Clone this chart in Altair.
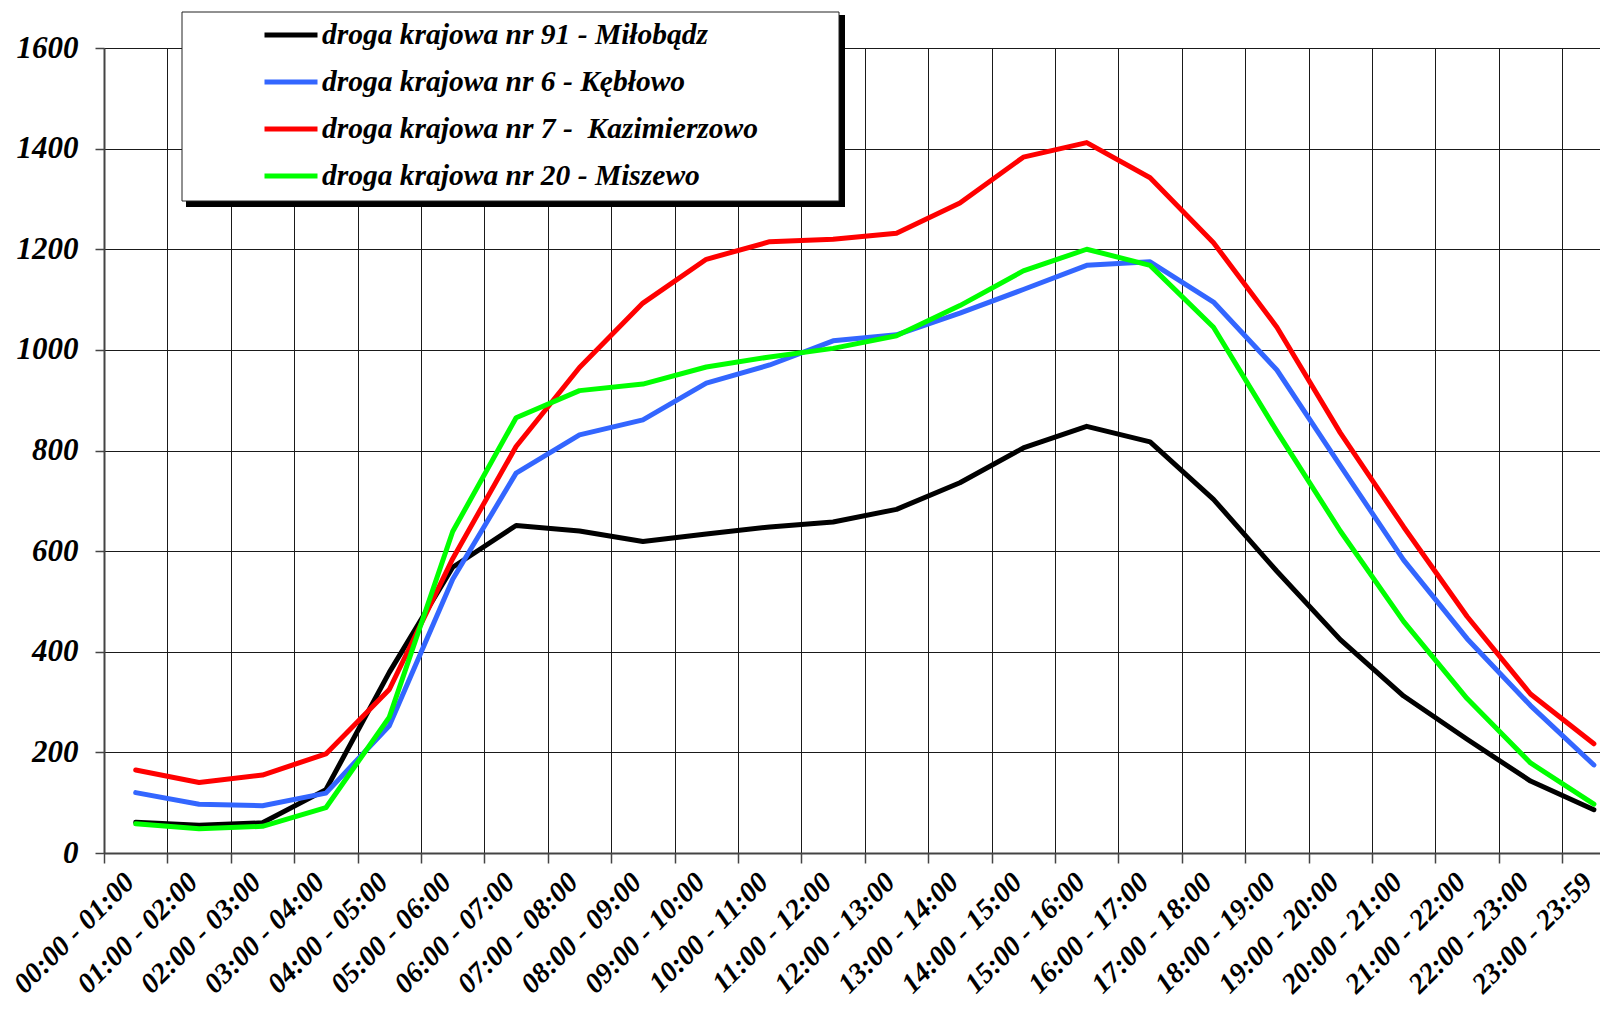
import altair as alt
import pandas as pd
import json

categories = ["00:00 - 01:00", "01:00 - 02:00", "02:00 - 03:00", "03:00 - 04:00",
              "04:00 - 05:00", "05:00 - 06:00", "06:00 - 07:00", "07:00 - 08:00",
              "08:00 - 09:00", "09:00 - 10:00", "10:00 - 11:00", "11:00 - 12:00",
              "12:00 - 13:00", "13:00 - 14:00", "14:00 - 15:00", "15:00 - 16:00",
              "16:00 - 17:00", "17:00 - 18:00", "18:00 - 19:00", "19:00 - 20:00",
              "20:00 - 21:00", "21:00 - 22:00", "22:00 - 23:00", "23:00 - 23:59"]

series_names = ["droga krajowa nr 91 - Miłobądz",
                "droga krajowa nr 6 - Kębłowo",
                "droga krajowa nr 7 -\u00a0 Kazimierzowo",
                "droga krajowa nr 20 - Miszewo"]
series_colors = ["#000000", "#3366FF", "#FF0000", "#00FF00"]

milobadz = [61, 55, 60, 126, 359, 568, 651, 640, 619, 634, 648, 658,
            683, 736, 805, 848, 817, 703, 560, 424, 312, 226, 143, 86]
keblowo = [120, 97, 94, 119, 253, 544, 755, 831, 861, 934, 970, 1018,
           1030, 1073, 1120, 1168, 1175, 1095, 960, 770, 582, 426, 293, 175]
kazimierzowo = [165, 140, 155, 197, 325, 585, 808, 965, 1093, 1180, 1215, 1220,
                1232, 1292, 1383, 1412, 1342, 1213, 1045, 835, 648, 470, 316, 217]
miszewo = [58, 48, 53, 90, 270, 639, 865, 919, 932, 966, 986, 1003,
           1028, 1088, 1157, 1200, 1168, 1045, 838, 640, 460, 307, 179, 97]

y_ticks = [0, 200, 400, 600, 800, 1000, 1200, 1400, 1600]

rows = []
for name, vals in zip(series_names, [milobadz, keblowo, kazimierzowo, miszewo]):
    for i, (cat, v) in enumerate(zip(categories, vals)):
        rows.append({"seria": name, "przedzial": cat, "pos": i + 0.5, "liczba": v})
df = pd.DataFrame(rows)

FONT = "Liberation Serif"
W, H = 1496, 805
n = len(categories)
step = 63.4
x_max = W / step
label_expr = json.dumps(categories) + "[datum.value]"

one = pd.DataFrame({"k": [0]})

shadow = alt.Chart(one).mark_rect(fill="#000000").encode(
    x=alt.value(82), x2=alt.value(741), y=alt.value(-33), y2=alt.value(159)
)
box = alt.Chart(one).mark_rect(fill="#ffffff", stroke="#222222", strokeWidth=1).encode(
    x=alt.value(78), x2=alt.value(735), y=alt.value(-36), y2=alt.value(153)
)

lines = alt.Chart(df).mark_line(strokeWidth=5, strokeCap="round", strokeJoin="round").encode(
    x=alt.X("pos:Q",
            scale=alt.Scale(domain=[0, x_max], nice=False, zero=False),
            axis=alt.Axis(values=list(range(n)), grid=True, gridColor="#1a1a1a", gridWidth=1,
                          ticks=True, tickSize=10, tickColor="#444444", tickWidth=1.5,
                          domainColor="#444444", domainWidth=2,
                          labelExpr=label_expr, labelOffset=25,
                          labelAngle=315, labelAlign="right", labelBaseline="middle",
                          labelFont=FONT, labelFontSize=28.5, labelFontWeight="bold",
                          labelFontStyle="italic", labelColor="#000000",
                          labelOverlap=False, labelBound=False, labelFlush=False,
                          labelPadding=14, title=None)),
    y=alt.Y("liczba:Q",
            scale=alt.Scale(domain=[0, 1600], nice=False),
            axis=alt.Axis(values=y_ticks, format="d", grid=True, gridColor="#1a1a1a",
                          gridWidth=1, ticks=True, tickSize=9, tickColor="#444444",
                          tickWidth=1.5, domainColor="#444444", domainWidth=2,
                          labelFont=FONT, labelFontSize=31, labelFontWeight="bold",
                          labelFontStyle="italic", labelColor="#000000",
                          labelPadding=17, title=None)),
    color=alt.Color("seria:N",
                    scale=alt.Scale(domain=series_names, range=series_colors),
                    sort=series_names,
                    legend=alt.Legend(orient="none", legendX=158, legendY=-42, title=None,
                                      symbolType="stroke", symbolSize=2809,
                                      symbolStrokeWidth=5, labelFont=FONT,
                                      labelFontSize=29.5, labelFontWeight="bold",
                                      labelFontStyle="italic", labelColor="#000000",
                                      labelLimit=800, labelOffset=2, rowPadding=3,
                                      padding=0)),
    detail="seria:N",
)

chart = alt.layer(shadow, box, lines).properties(
    width=W, height=H,
    autosize=alt.AutoSizeParams(type="none"),
    padding={"left": 96, "top": 40, "right": 0, "bottom": 146},
    background="#ffffff",
).configure_view(strokeOpacity=0)

chart.save("out.html", embed_options={"renderer": "svg", "actions": False})
